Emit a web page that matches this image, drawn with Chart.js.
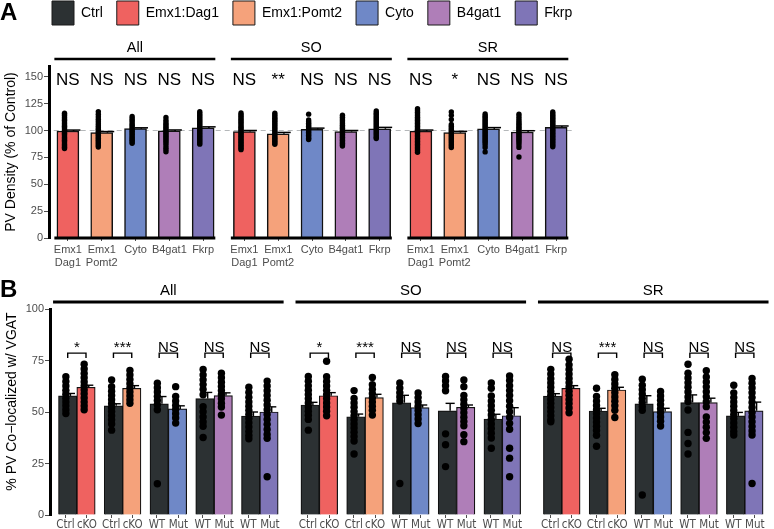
<!DOCTYPE html>
<html><head><meta charset="utf-8">
<script src="https://cdn.jsdelivr.net/npm/chart.js@4.4.1/dist/chart.umd.min.js"></script>
<style>
html,body{margin:0;padding:0;background:#fff;width:774px;height:529px;overflow:hidden}
#wrapA{position:absolute;left:0;top:0;width:774px;height:270px}
#wrapB{position:absolute;left:0;top:270px;width:774px;height:259px}
canvas{display:block}
</style></head><body>
<div id="wrapA"><canvas id="chartA" width="774" height="270"></canvas></div>
<div id="wrapB"><canvas id="chartB" width="774" height="259"></canvas></div>
<script>
// ---------------- DATA ----------------
const regions = ['All', 'SO', 'SR'];
const genotypeNames = ['Ctrl', 'Emx1:Dag1', 'Emx1:Pomt2', 'Cyto', 'B4gat1', 'Fkrp'];
const tickLabelsA = [['Emx1', 'Dag1'], ['Emx1', 'Pomt2'], 'Cyto', 'B4gat1', 'Fkrp'];
const yTicksA = [0, 25, 50, 75, 100, 125, 150];
const refLevelA = 100;

// Panel A: PV density (% of control), per region [Dag1, Pomt2, Cyto, B4gat1, Fkrp]
const meanA_All = [99.5, 98, 101.7, 99.6, 102.4];
const meanA_SO  = [99, 97, 101, 99, 101.6];
const meanA_SR  = [99.4, 98, 101.5, 98.6, 103];
const seA_All = [0.9, 1.0, 0.8, 0.9, 1.0];
const seA_SO  = [1.0, 1.2, 1.2, 1.0, 1.3];
const seA_SR  = [1.0, 1.2, 1.2, 1.2, 1.2];
const sigA_All = ['NS', 'NS', 'NS', 'NS', 'NS'];
const sigA_SO  = ['NS', '**', 'NS', 'NS', 'NS'];
const sigA_SR  = ['NS', '*', 'NS', 'NS', 'NS'];

const dotsA_All = [
  [116,114.6,113.5,112,110.8,109.5,108,106.6,105.2,104,102.7,101.4,100,98.8,97.5,96.2,95,93.6,92.3,91,89.7,88.3,87,85.8,84.5,83.2],
  [117.6,115.2,112.8,110.5,108.4,106.3,104.5,102.8,101.2,99.7,98.3,97,95.6,94.2,92.9,91.5,90.2,88.8,87.4,86,84.6],
  [113,111.2,109.5,107.8,106.2,104.8,103.3,101.9,100.5,99.2,97.8,96.4,95,93.6,92.2,90.9,89.5,88.2],
  [112.2,109.6,107.5,105.8,104.3,102.9,101.5,100.1,98.7,97.3,95.9,94.5,93,91.6,90,88.3,86.5,84.2,82.4,80.3],
  [117.4,115.8,114.2,112.7,111.2,109.8,108.4,107,105.6,104.2,102.8,101.4,100,98.6,97.2,95.8,94.4,93,91.6,90.2,88.8,87.3]
];
const dotsA_SO = [
  [116.3,114.8,113.2,111.7,110.3,108.8,107.4,106,104.5,103.1,101.7,100.3,98.9,97.5,96.1,94.7,93.3,91.9,90.5,89.1,87.7,86.3,84.9,83.5,82.2],
  [116.2,114.6,113,111.5,110,108.5,107,105.6,104.1,102.7,101.3,99.9,98.5,97.1,95.7,94.3,92.9,91.5,90.1,88.7,87.2],
  [115.2,109.8,108.3,106.8,105.4,104,102.6,101.2,99.8,98.4,97,95.6,94.2,92.7,91.6],
  [114.2,112.4,110.8,109.3,107.8,106.4,105,103.6,102.2,100.8,99.4,98,96.6,95.2,93.8,92.4,91,89.6,88.2,86.7,85.6],
  [118.2,116.6,115.1,113.6,112.1,110.7,109.3,107.9,106.5,105.1,103.7,102.3,100.9,99.5,98.1,96.7,95.3,93.8,92.6]
];
const dotsA_SR = [
  [120.3,118.6,117,115.4,113.9,112.4,110.9,109.5,108.1,106.7,105.3,103.9,102.5,101.1,99.7,98.3,96.9,95.5,94.1,92.7,91.3,89.9,88.5,87.1,85.7,84.3,82.9,81.5,79.8],
  [117.2,114.1,110.3,105.6,103.9,102.4,100.9,99.5,98.1,96.7,95.3,93.9,92.5,91.1,89.7,88.3,86.9,85.5,84.1],
  [115.3,113.8,112.3,110.8,109.4,108,106.6,105.2,103.8,102.4,101,99.6,98.2,96.8,95.4,94,92.6,91.2,89.8,88.4,86.5,84.2,80.1],
  [115.1,112.9,110.8,108.9,107.2,105.7,104.2,102.8,101.4,100,98.6,97.2,95.8,94.4,93,91.6,90.2,88.7,86.6,84.3,75.4],
  [117.3,115.8,114.3,112.8,111.4,110,108.6,107.2,105.8,104.4,103,101.6,100.2,98.8,97.4,96,94.6,93.2,91.8,90.4,89,87.6,86.2,84.8]
];

// Panel B: % PV co-localized w/ VGAT; pairs (control, mutant) for Dag1, Pomt2, Cyto, B4gat1, Fkrp
const tickLabelsB = ['Ctrl', 'cKO', 'Ctrl', 'cKO', 'WT', 'Mut', 'WT', 'Mut', 'WT', 'Mut'];
const yTicksB = [0, 25, 50, 75, 100];
const meanB_All = [57.8, 62, 53, 61.5, 54, 51.5, 56.5, 58, 48, 50];
const meanB_SO  = [53.4, 57.9, 47.7, 57, 54.5, 52.1, 50.6, 52.3, 46.6, 48.2];
const meanB_SR  = [57.7, 61.5, 50.5, 60.7, 54, 50.2, 54.6, 54.6, 48.1, 50.6];
const seB_All = [1.2, 1.0, 1.0, 1.3, 3.5, 1.5, 3.0, 1.3, 2.0, 2.5];
const seB_SO  = [1.3, 1.5, 1.3, 1.6, 3.6, 1.3, 3.6, 1.1, 2.3, 3.9];
const seB_SR  = [1.2, 1.3, 1.3, 1.3, 3.9, 1.6, 3.7, 2.1, 1.7, 4.2];
const sigB_All = ['*', '***', 'NS', 'NS', 'NS'];
const sigB_SO  = ['*', '***', 'NS', 'NS', 'NS'];
const sigB_SR  = ['NS', '***', 'NS', 'NS', 'NS'];

const dotsB_All = [
  [67.1,64.8,62.6,60.5,58.6,56.7,54.9,53,51.1,49.3],
  [73.2,70.9,68.7,66.6,64.6,62.6,60.7,58.8,56.8,54.8,52.9,51.1],
  [65.5,62.3,60.1,58,56,54,52.1,50.2,48.2,46.2,44.2,41.2],
  [70.2,68,65.8,63.7,61.7,59.7,57.8,55.9,54.2],
  [64,61.8,59.7,57.6,55.6,53.5,51.1,15.2],
  [62.3,57.5,55.3,53.2,51.2,49.2,47.1,44.6],
  [70.6,68,65.6,63.3,61,58.4,52.6,50.1,47.6,45.2,43.1,37.6],
  [68.8,66.6,64.5,62.4,60.4,58.4,56.4,54.3,52.4,48.5],
  [62,59.5,57.1,54.9,52.8,50.8,48.8,46.8,44.8,42.7,40.5,38.6,37],
  [65,62.6,60.3,58,55.7,53.4,51.1,48.8,46.4,44,41.5,39.1,37.2,18.6]
];
const dotsB_SO = [
  [67.2,64.9,62.7,60.6,58.5,56.4,54.4,52.4,50.4,48.4,46.4,41.2],
  [74.6,67.1,64.8,62.6,60.5,58.4,56.4,54.4,52.4,50.4,48.2],
  [60.4,56.6,54.4,52.3,50.2,48.2,46.2,44.2,42.2,40.2,38.1,35.9,29.6],
  [66.8,63.2,61,58.9,56.8,54.8,52.8,50.8,48.5],
  [64.1,61.6,59.4,57.3,55.3,15.3],
  [59.2,57,54.9,52.8,50.7,48.7,46.6,44.4],
  [67.2,65.1,62.8,60.3,39.4,34.1,23.5],
  [65.5,62.3,58,55.9,53.8,51.7,49.6,47.5,45.4,43.3,39,35.6],
  [64.1,61.5,57.8,55.3,53,50.8,48.6,46.4,44.2,42,39.7,37.4,32.4],
  [67.5,65.3,62.8,60.4,58,55.5,52.8,50.1,47.3,44.5,41.6,32.4,27.6,18.6]
];
const dotsB_SR = [
  [70.7,68.4,66.2,64.1,62,60,58,56.1,54.2,52.2,50.2,48.2,46.2,45.3],
  [75.6,72.9,70.6,68.4,66.3,64.2,62.1,60.1,58.1,56.1,54.1,52,49.6],
  [61.5,57.5,55.3,53.2,51.1,49.1,47.1,45.1,43.1,41,38.7,33.4],
  [68.1,65.8,63.6,61.5,59.4,57.3,55.2,53,50.8,47.3],
  [65.9,63,60.8,58.7,56.6,54.6,52.6,50.8,9.7],
  [60,57.8,55.7,53.6,51.6,49.6,47.6,45.5,43.2],
  [73.2,68.8,66.5,64.2,62,59.7,57.3,55.1,51,40.1,34.7,29.6],
  [70,67,64.6,62.2,59.8,57.4,55,52.6,47.6,45.1,42.6,40,37.2],
  [63,59.3,57,54.9,52.8,50.7,48.7,46.7,44.7,42.6,40.5,38.8],
  [66.3,64,61.7,59.4,57,54.6,52.2,49.8,47.6,45.3,43,40.8,38.8,15.3]
];

// ---------------- STYLE / LAYOUT ----------------
const colors = ['#2C3133', '#EF6260', '#F5A27B', '#6F88C7', '#AF7EB8', '#7F75B7'];
const FONT = "'Liberation Sans', Arial, Helvetica, sans-serif";
const TICK_GREY = '#4D4D4D';
Chart.defaults.font.family = FONT;
Chart.defaults.color = '#000';

function hasFont(name) {
  const c = document.createElement('canvas').getContext('2d');
  c.font = '40px monospace'; const a = c.measureText('mmmmWWiilKO').width;
  c.font = "40px '" + name + "', monospace"; return c.measureText('mmmmWWiilKO').width !== a;
}
const NARROW = hasFont('Liberation Sans Narrow') ? "'Liberation Sans Narrow'" :
               (hasFont('DejaVu Sans Condensed') ? "'DejaVu Sans Condensed'" : null);
const tickFontB = NARROW ? {family: NARROW, size: 11.5} : {family: FONT, size: 10};

const meansA = [meanA_All, meanA_SO, meanA_SR];
const sesA = [seA_All, seA_SO, seA_SR];
const sigsA = [sigA_All, sigA_SO, sigA_SR];
const dotsA = [dotsA_All, dotsA_SO, dotsA_SR];
const meansB = [meanB_All, meanB_SO, meanB_SR];
const sesB = [seB_All, seB_SO, seB_SR];
const sigsB = [sigB_All, sigB_SO, sigB_SR];
const dotsB = [dotsB_All, dotsB_SO, dotsB_SR];

const STEP_A = 5.22, STEP_B = 5.3;
const posA = (g, i) => g * STEP_A + i;
const posB = (g, k, j) => g * STEP_B + k + (j ? 0.2 : -0.2);

// ----- Panel A datasets -----
const barsA = [], barColA = [], dotPtsA = [], tickPosA = [], tickTxtA = [];
regions.forEach((r, g) => {
  meansA[g].forEach((m, i) => {
    barsA.push({x: posA(g, i), y: m});
    barColA.push(colors[i + 1]);
    tickPosA.push(posA(g, i));
    tickTxtA.push(tickLabelsA[i]);
    dotsA[g][i].forEach(v => dotPtsA.push({x: posA(g, i) - 0.1, y: v}));
  });
});
const refLineA = [{x: posA(0, 0) - 0.42, y: refLevelA}, {x: posA(2, 4) + 0.48, y: refLevelA}];

// ----- Panel B datasets -----
const barsB = [], barColB = [], dotPtsB = [], tickPosB = [], tickTxtB = [];
regions.forEach((r, g) => {
  for (let k = 0; k < 5; k++) {
    for (let j = 0; j < 2; j++) {
      const idx = k * 2 + j;
      const p = posB(g, k, j);
      barsB.push({x: p, y: meansB[g][idx]});
      barColB.push(j ? colors[k + 1] : colors[0]);
      tickPosB.push(p + (j ? 0.02 : -0.05));
      tickTxtB.push(tickLabelsB[idx]);
      dotsB[g][idx].forEach(v => dotPtsB.push({x: p - 0.04, y: v}));
    }
  }
});

function hline(ctx, x1, x2, y) { ctx.beginPath(); ctx.moveTo(x1, y); ctx.lineTo(x2, y); ctx.stroke(); }
function vline(ctx, x, y1, y2) { ctx.beginPath(); ctx.moveTo(x, y1); ctx.lineTo(x, y2); ctx.stroke(); }

const legendShift = {
  id: 'legendShift',
  afterLayout(chart) { if (chart.legend) { chart.legend.left = 38; chart.legend.top = -13; } }
};

const decorA = {
  id: 'decorA',
  afterDatasetDraw(chart, args) {
    if (args.index !== 0) return;
    const {ctx, scales: {x, y}} = chart;
    ctx.save(); ctx.strokeStyle = '#000'; ctx.lineWidth = 1.5;
    regions.forEach((r, g) => meansA[g].forEach((m, i) => {
      const c = x.getPixelForValue(posA(g, i) + 0.17);
      const hw = x.getPixelForValue(posA(g, i) + 0.37) - c;
      const yt = y.getPixelForValue(m + sesA[g][i]);
      vline(ctx, c, y.getPixelForValue(m), yt);
      hline(ctx, c - hw, c + hw, yt);
    }));
    ctx.restore();
  },
  afterDraw(chart) {
    const {ctx, chartArea, scales: {x, y}} = chart;
    ctx.save();
    ctx.fillStyle = '#000'; ctx.strokeStyle = '#000';
    ctx.font = 'bold 24px ' + FONT; ctx.textAlign = 'left'; ctx.textBaseline = 'middle';
    ctx.fillText('A', 0, 13);
    const y0 = y.getPixelForValue(0);
    regions.forEach((r, g) => {
      const xl = x.getPixelForValue(posA(g, 0) - 0.4), xr = x.getPixelForValue(posA(g, 4) + 0.36);
      ctx.lineWidth = 2.6; hline(ctx, xl, xr, chartArea.top - 7);
      ctx.lineWidth = 3.2; hline(ctx, xl, xr, y0);
      ctx.font = '14.5px ' + FONT; ctx.textAlign = 'center'; ctx.textBaseline = 'alphabetic';
      ctx.fillText(r, (xl + xr) / 2, chartArea.top - 14);
      ctx.font = '17px ' + FONT;
      sigsA[g].forEach((s, i) => ctx.fillText(s, x.getPixelForValue(posA(g, i)), y.getPixelForValue(142.5)));
    });
    ctx.restore();
  }
};

const decorB = {
  id: 'decorB',
  afterDatasetDraw(chart, args) {
    if (args.index !== 0) return;
    const {ctx, scales: {x, y}} = chart;
    ctx.save(); ctx.strokeStyle = '#000'; ctx.lineWidth = 1.4;
    regions.forEach((r, g) => {
      for (let k = 0; k < 5; k++) for (let j = 0; j < 2; j++) {
        const idx = k * 2 + j, m = meansB[g][idx];
        const c = x.getPixelForValue(posB(g, k, j) + 0.06);
        const hw = x.getPixelForValue(posB(g, k, j) + 0.16) - c;
        const yt = y.getPixelForValue(m + sesB[g][idx]);
        vline(ctx, c, y.getPixelForValue(m), yt);
        hline(ctx, c - hw, c + hw, yt);
      }
    });
    ctx.restore();
  },
  afterDraw(chart) {
    const {ctx, chartArea, scales: {x, y}} = chart;
    ctx.save();
    ctx.fillStyle = '#000'; ctx.strokeStyle = '#000';
    ctx.font = 'bold 24px ' + FONT; ctx.textAlign = 'left'; ctx.textBaseline = 'middle';
    ctx.fillText('B', 0, 20);
    ctx.save();
    ctx.translate(chartArea.left - 38, chartArea.top + 0.449 * (chartArea.bottom - chartArea.top));
    ctx.rotate(-Math.PI / 2);
    ctx.font = '14px ' + FONT; ctx.textAlign = 'center'; ctx.textBaseline = 'middle';
    ctx.fillText('% PV Co\u2212localized w/ VGAT', 0, 0);
    ctx.restore();
    regions.forEach((r, g) => {
      const xl = x.getPixelForValue(posB(g, 0, 0) - 0.32), xr = x.getPixelForValue(posB(g, 4, 1) + 0.32);
      ctx.lineWidth = 2.8; hline(ctx, xl, xr, chartArea.top - 7);
      ctx.font = '15px ' + FONT; ctx.textAlign = 'center'; ctx.textBaseline = 'alphabetic';
      ctx.fillText(r, (xl + xr) / 2, chartArea.top - 14);
      for (let k = 0; k < 5; k++) {
        const a = x.getPixelForValue(posB(g, k, 0)), b = x.getPixelForValue(posB(g, k, 1));
        const yb = y.getPixelForValue(78.6), yl = y.getPixelForValue(76.2);
        ctx.lineWidth = 1.4;
        ctx.beginPath(); ctx.moveTo(a, yl); ctx.lineTo(a, yb); ctx.lineTo(b, yb); ctx.lineTo(b, yl); ctx.stroke();
        ctx.font = '15px ' + FONT;
        ctx.fillText(sigsB[g][k], (a + b) / 2, yb - 1.5);
      }
    });
    ctx.restore();
  }
};

const yAxisCommon = {
  type: 'linear', min: 0,
  border: {display: true, color: '#000', width: 3},
  grid: {display: true, drawOnChartArea: false, drawTicks: true, tickLength: 5, tickColor: TICK_GREY, tickWidth: 1},
  ticks: {color: TICK_GREY, font: {size: 11}, padding: 1}
};

new Chart(document.getElementById('chartA'), {
  type: 'bar',
  data: {datasets: [
    {type: 'bar', data: barsA, backgroundColor: barColA, borderColor: '#111', borderWidth: 1.5, barThickness: 22, order: 2},
    {type: 'scatter', data: dotPtsA, pointRadius: 2.7, pointBackgroundColor: '#000', pointBorderWidth: 0, showLine: false, order: 1},
    {type: 'line', data: refLineA, borderColor: '#B5B8BA', borderWidth: 1.2, borderDash: [5, 4], pointRadius: 0, fill: false, order: 3}
  ]},
  options: {
    responsive: false, animation: false,
    layout: {padding: {top: 18, left: 0, right: 0, bottom: 0}},
    plugins: {
      tooltip: {enabled: false},
      legend: {
        display: true, position: 'top', align: 'start', onClick: null,
        labels: {
          boxWidth: 22, boxHeight: 24, padding: 14, color: '#000', font: {size: 14},
          generateLabels: () => genotypeNames.map((t, i) => ({
            text: t, fillStyle: colors[i], strokeStyle: '#1A1A1A', lineWidth: 1, hidden: false, fontColor: '#000'
          }))
        }
      }
    },
    scales: {
      x: {
        type: 'linear', offset: false,
        min: -(68 - 49) / 34, max: -(68 - 49) / 34 + (774 - 49) / 34,
        afterBuildTicks: s => { s.ticks = tickPosA.map(v => ({value: v})); },
        afterFit: s => { s.height = 32; },
        border: {display: false},
        grid: {display: true, drawOnChartArea: false, drawTicks: true, tickLength: 3, tickColor: TICK_GREY, offset: false},
        ticks: {color: TICK_GREY, font: {size: 11}, padding: 2, autoSkip: false, maxRotation: 0, minRotation: 0,
                callback: (v, i) => tickTxtA[i]}
      },
      y: Object.assign({}, yAxisCommon, {
        max: 160,
        afterBuildTicks: s => { s.ticks = yTicksA.map(v => ({value: v})); },
        afterFit: s => { s.width = 49; },
        title: {display: true, text: 'PV Density (% of Control)', color: '#000', font: {size: 14}, padding: {top: 3, bottom: 0}}
      })
    }
  },
  plugins: [legendShift, decorA]
});

new Chart(document.getElementById('chartB'), {
  type: 'bar',
  data: {datasets: [
    {type: 'bar', data: barsB, backgroundColor: barColB, borderColor: '#111', borderWidth: 1.2, barThickness: 18.4, order: 2},
    {type: 'scatter', data: dotPtsB, pointRadius: 3.7, pointBackgroundColor: '#000', pointBorderWidth: 0, showLine: false, order: 1}
  ]},
  options: {
    responsive: false, animation: false,
    layout: {padding: {top: 39, left: 0, right: 0, bottom: 0}},
    plugins: {tooltip: {enabled: false}, legend: {display: false}},
    scales: {
      x: {
        type: 'linear', offset: false,
        min: -(77 - 50) / 46, max: -(77 - 50) / 46 + (774 - 50) / 46,
        afterBuildTicks: s => { s.ticks = tickPosB.map(v => ({value: v})); },
        afterFit: s => { s.height = 14; },
        border: {display: false},
        grid: {display: true, drawOnChartArea: false, drawTicks: true, tickLength: 3, tickColor: TICK_GREY, offset: false},
        ticks: {color: TICK_GREY, font: tickFontB, padding: 0, autoSkip: false, maxRotation: 0, minRotation: 0,
                callback: (v, i) => tickTxtB[i]}
      },
      y: Object.assign({}, yAxisCommon, {
        max: 100,
        afterBuildTicks: s => { s.ticks = yTicksB.map(v => ({value: v})); },
        afterFit: s => { s.width = 50; },
        title: {display: false}
      })
    }
  },
  plugins: [decorB]
});
</script>
</body></html>
